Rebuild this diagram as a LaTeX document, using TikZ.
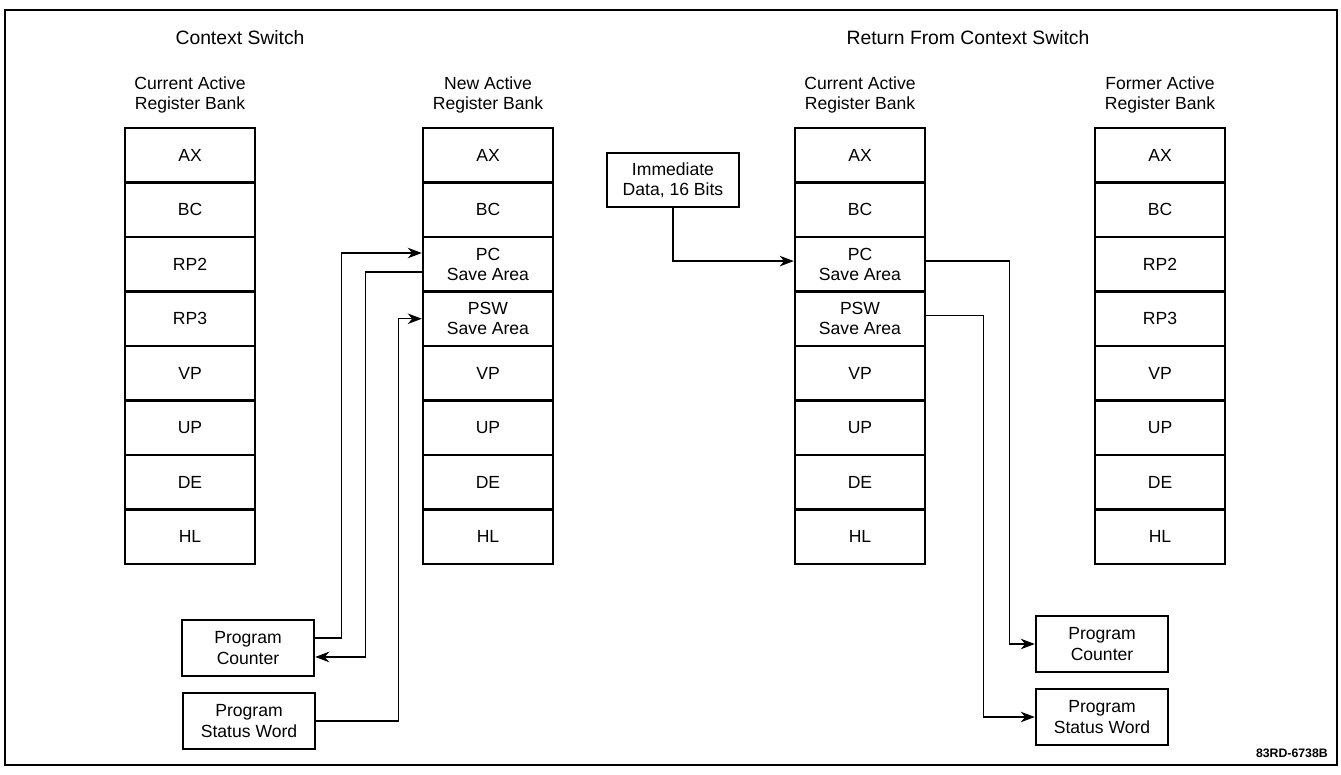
\documentclass[tikz,border=0pt]{standalone}
\usepackage{fontspec}
\setmainfont{Liberation Sans}
\usetikzlibrary{arrows.meta,positioning,calc}

\begin{document}
\begin{tikzpicture}[x=0.02cm,y=-0.02cm,
  reg/.style={draw,line width=1.4pt,minimum width=2.6cm,minimum height=1.09cm,inner sep=0pt,align=center,font=\fontsize{10}{11.5}\selectfont},
  pbox/.style={draw,line width=1.4pt,minimum width=2.64cm,minimum height=1.12cm,inner sep=0pt,align=center,font=\fontsize{10}{11.5}\selectfont},
  hdr/.style={align=center,font=\fontsize{10}{11}\selectfont},
  ttl/.style={font=\fontsize{11}{13}\selectfont},
  link/.style={line width=0.8pt,-{Stealth[length=8pt,width=6pt,inset=2.5pt]}}]
  \useasboundingbox (0,0) rectangle (1341,774);
  \draw[line width=0.9pt] (5,10) rectangle (1337,765);

  % titles
  \node[ttl] (ttlA) at (240,38) {Context Switch};
  \node[ttl] (ttlB) at (968,38) {Return From Context Switch};
  \node[hdr] (hA) at (190,95) {Current Active\\Register Bank};
  \node[hdr] (hB) at (488,95) {New Active\\Register Bank};
  \node[hdr] (hC) at (860,95) {Current Active\\Register Bank};
  \node[hdr] (hD) at (1160,95) {Former Active\\Register Bank};

  % register banks
  \foreach \t [count=\i] in {AX,BC,RP2,RP3,VP,UP,DE,HL}
    \node[reg] (a\i) at (190,{100.75+54.5*\i}) {\t};
  \foreach \t [count=\i] in {AX,BC,{PC\\Save Area},{PSW\\Save Area},VP,UP,DE,HL}
    \node[reg] (b\i) at (488,{100.75+54.5*\i}) {\t};
  \foreach \t [count=\i] in {AX,BC,{PC\\Save Area},{PSW\\Save Area},VP,UP,DE,HL}
    \node[reg] (c\i) at (860,{100.75+54.5*\i}) {\t};
  \foreach \t [count=\i] in {AX,BC,RP2,RP3,VP,UP,DE,HL}
    \node[reg] (d\i) at (1160,{100.75+54.5*\i}) {\t};

  % side boxes
  \node[pbox] (ctrA) at (248,648) {Program\\Counter};
  \node[pbox] (pswA) at (249,721) {Program\\Status Word};
  \node[pbox,minimum height=1.08cm] (imm) at (673,180) {Immediate\\Data, 16 Bits};
  \node[pbox] (ctrB) at (1102,644) {Program\\Counter};
  \node[pbox] (pswB) at (1102,717) {Program\\Status Word};

  % context switch
  \draw[link] ([yshift=5.7pt]ctrA.east) -- ++(26,0) |- ([yshift=6.4pt]b3.west);
  \draw[link] ([yshift=-4.4pt]b3.west) -- ++(-56,0) |- ([yshift=-5.1pt]ctrA.east);
  \draw[link] (pswA.east) -- ++(82,0) |- (b4.west);

  % return
  \draw[link] (imm.south) |- ([yshift=1.8pt]c3.west);
  \draw[link] ([yshift=1.8pt]c3.east) -- ++(83,0) |- (ctrB.west);
  \draw[link] ([yshift=1.8pt]c4.east) -- ++(57,0) |- (pswB.west);

  \node[anchor=east,font=\fontsize{7}{8}\selectfont\bfseries] (code) at (1334,753) {83RD-6738B};
\end{tikzpicture}
\end{document}
